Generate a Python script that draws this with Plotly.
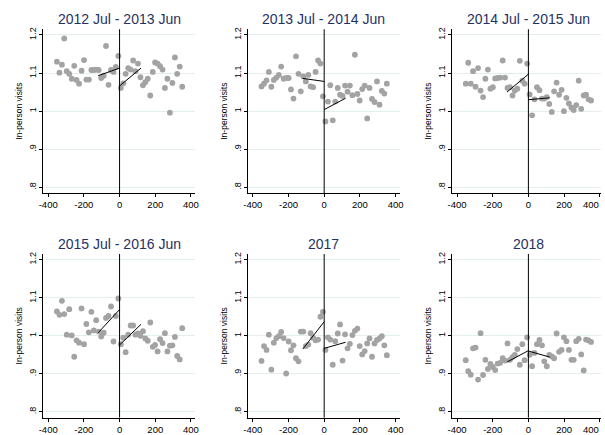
import plotly.graph_objects as go

# ---------------- data ----------------
titles = ["2012 Jul - 2013 Jun", "2013 Jul - 2014 Jun", "2014 Jul - 2015 Jun",
          "2015 Jul - 2016 Jun", "2017", "2018"]

bin_left = [-351, -337, -323, -310, -296, -282, -268, -254, -241, -227, -213, -199, -186,
            -172, -158, -144, -131, -117, -103, -89, -76, -62, -48, -34, -21, -7]
bin_right = [7, 21, 34, 48, 62, 76, 89, 103, 117, 131, 144, 158, 172,
             186, 199, 213, 227, 241, 254, 268, 282, 296, 310, 323, 337, 351]
bin_x = bin_left + bin_right

p1_vals = [1.130, 1.101, 1.122, 1.191, 1.105, 1.098, 1.085, 1.119, 1.082, 1.072, 1.106, 1.134, 1.083,
           1.083, 1.108, 1.108, 1.109, 1.108, 1.087, 1.093, 1.171, 1.069, 1.108, 1.103, 1.116, 1.145,
           1.061, 1.073, 1.098, 1.113, 1.109, 1.133, 1.105, 1.125, 1.089, 1.068, 1.076, 1.085, 1.041,
           1.103, 1.128, 1.125, 1.118, 1.109, 1.061, 1.085, 0.996, 1.074, 1.141, 1.098, 1.117, 1.064]
p2_vals = [1.065, 1.072, 1.081, 1.103, 1.064, 1.082, 1.088, 1.095, 1.117, 1.085, 1.087, 1.087, 1.057,
           1.033, 1.144, 1.098, 1.052, 1.091, 1.078, 1.095, 1.065, 1.063, 1.103, 1.133, 1.125, 1.039,
           0.973, 1.025, 1.068, 0.976, 1.025, 1.061, 1.043, 1.040, 1.067, 1.051, 1.067, 1.042, 1.148,
           1.045, 1.028, 1.058, 1.067, 0.981, 1.061, 1.032, 1.024, 1.078, 1.017, 1.053, 1.046, 1.072]
p3_vals = [1.072, 1.127, 1.072, 1.105, 1.064, 1.113, 1.054, 1.037, 1.085, 1.109, 1.059, 1.063, 1.086,
           1.087, 1.088, 1.133, 1.088, 1.061, 1.063, 1.041, 1.054, 1.059, 1.132, 1.080, 1.072, 1.125,
           1.044, 0.989, 1.031, 1.063, 1.055, 1.033, 1.033, 1.037, 1.019, 0.998, 1.052, 1.075, 1.043,
           1.056, 1.000, 1.035, 1.020, 1.009, 1.003, 1.016, 1.080, 1.006, 1.041, 1.043, 1.031, 1.028]
p4_vals = [1.064, 1.055, 1.092, 1.057, 1.003, 1.070, 1.001, 0.945, 0.988, 0.982, 1.072, 0.978, 1.031,
           1.009, 1.063, 1.014, 1.041, 1.011, 0.998, 1.008, 1.047, 1.052, 1.077, 0.985, 1.052, 1.098,
           0.978, 0.995, 0.957, 1.003, 1.027, 1.027, 1.003, 1.006, 1.000, 1.012, 0.993, 0.987, 1.035,
           0.971, 0.976, 0.959, 0.991, 0.981, 1.007, 0.959, 0.974, 0.975, 0.997, 0.947, 0.938, 1.020]
p5_vals = [0.934, 0.973, 0.963, 1.003, 0.911, 0.982, 0.994, 0.999, 1.010, 0.994, 0.901, 0.985, 0.962,
           0.975, 0.941, 0.933, 1.011, 1.011, 0.973, 0.977, 1.007, 0.995, 0.988, 0.990, 1.050, 1.063,
           0.963, 0.996, 0.990, 0.924, 0.986, 1.006, 1.030, 0.935, 1.004, 0.967, 0.979, 1.002, 1.013,
           1.019, 0.973, 0.951, 0.960, 0.980, 0.993, 0.945, 0.980, 0.989, 0.993, 0.999, 0.975, 0.949]
p6_vals = [0.936, 0.907, 0.898, 0.967, 0.969, 0.885, 1.007, 0.897, 0.937, 0.913, 0.926, 0.918, 0.910,
           0.927, 0.929, 0.941, 0.935, 0.980, 0.937, 0.944, 0.950, 0.965, 0.924, 0.978, 0.936, 0.996,
           0.950, 0.920, 0.955, 0.978, 0.989, 0.975, 0.933, 0.920, 0.950, 0.946, 0.941, 1.006, 0.958,
           0.963, 0.996, 0.986, 0.963, 0.937, 0.937, 0.986, 0.992, 0.951, 0.909, 0.990, 0.988, 0.984]
panel_vals = [p1_vals, p2_vals, p3_vals, p4_vals, p5_vals, p6_vals]

# local linear fits: [value at -120, value at 0-] and [value at 0+, value at 120]
fit_left_x = [-120, 0]
fit_right_x = [0, 120]
fit_left = [[1.093, 1.113], [1.086, 1.078], [1.050, 1.097],
            [1.008, 1.069], [0.965, 1.037], [0.931, 0.961]]
fit_right = [[1.066, 1.113], [1.004, 1.034], [1.030, 1.035],
             [0.976, 1.030], [0.967, 0.983], [0.960, 0.944]]

x_ticks = [-400, -200, 0, 200, 400]
x_ticktext = ["-400", "-200", "0", "200", "400"]
y_ticks = [0.8, 0.9, 1.0, 1.1, 1.2]
y_ticktext = [".8", ".9", "1", "1.1", "1.2"]
cutoff_x = 0

# ---------------- layout geometry (pixels) ----------------
W, H = 605, 435
col_px = [(39.0, 193.0), (246.8, 400.8), (454.1, 605.0)]
px_per_unit = 154.0 / 850.0
zero_px = [116.3, 324.0, 531.3]
row_px = [(27.5, 192.8), (254.3, 419.5)]
y_range = [0.785, 1.215]

FONT = "Liberation Sans, Arial, sans-serif"
TITLE_COLOR = "#1f3264"
GRID = "#e4edef"
DOT = "#a3a3a3"
XTICK_SIZE = 9.5

fig = go.Figure()
layout = dict(width=W, height=H, margin=dict(l=0, r=0, t=0, b=0),
              paper_bgcolor="white", plot_bgcolor="white", showlegend=False,
              font=dict(family=FONT, color="black"))
annotations = []
shapes = []

for i in range(6):
    r, c = divmod(i, 3)
    n = i + 1
    xa = "x" if n == 1 else f"x{n}"
    ya = "y" if n == 1 else f"y{n}"
    x0p, x1p = col_px[c]
    y0p, y1p = row_px[r]
    xr = [(x0p - zero_px[c]) / px_per_unit, (x1p - zero_px[c]) / px_per_unit]

    fig.add_trace(go.Scatter(x=bin_x, y=panel_vals[i], mode="markers", xaxis=xa, yaxis=ya,
                             marker=dict(color=DOT, size=5.8, line=dict(width=0)),
                             hoverinfo="skip"))
    fig.add_trace(go.Scatter(x=fit_left_x, y=fit_left[i], mode="lines", xaxis=xa, yaxis=ya,
                             line=dict(color="black", width=1), hoverinfo="skip"))
    fig.add_trace(go.Scatter(x=fit_right_x, y=fit_right[i], mode="lines", xaxis=xa, yaxis=ya,
                             line=dict(color="black", width=1), hoverinfo="skip"))

    # right-hand column: the last label reaches the page edge and plotly drops it,
    # so it is added as an annotation right-aligned at the end of the same axis
    ttext = list(x_ticktext)
    if c == 2:
        ttext[-1] = ""
        annotations.append(dict(text=x_ticktext[-1], xref=xa, yref=f"{ya} domain",
                                x=xr[1], y=0, xanchor="right", yanchor="top",
                                xshift=-1, yshift=-5, borderpad=0, showarrow=False,
                                font=dict(size=XTICK_SIZE, family=FONT, color="black")))

    layout[f"xaxis{'' if n == 1 else n}"] = dict(
        domain=[x0p / W, x1p / W], range=xr, anchor=ya,
        tickmode="array", tickvals=x_ticks, ticktext=ttext,
        tickfont=dict(size=XTICK_SIZE, family=FONT, color="black"),
        showline=True, linecolor="black", linewidth=1,
        ticks="outside", ticklen=3, tickwidth=1, tickcolor="black",
        showgrid=False, zeroline=False, fixedrange=True)
    layout[f"yaxis{'' if n == 1 else n}"] = dict(
        domain=[1 - y1p / H, 1 - y0p / H], range=y_range, anchor=xa,
        tickmode="array", tickvals=y_ticks, ticktext=y_ticktext, tickangle=-90,
        tickfont=dict(size=9, family=FONT, color="black"),
        showline=True, linecolor="black", linewidth=1,
        ticks="outside", ticklen=3, tickwidth=1, tickcolor="black",
        showgrid=True, gridcolor=GRID, gridwidth=1, zeroline=False, fixedrange=True,
        title=dict(text="In-person visits", font=dict(size=8.5, family=FONT, color="black"),
                   standoff=3))

    shapes.append(dict(type="line", xref=xa, yref=f"{ya} domain", x0=cutoff_x, x1=cutoff_x,
                       y0=0, y1=1, line=dict(color="black", width=1)))
    annotations.append(dict(text=titles[i], xref="paper", yref="paper",
                            x=(x0p + (x1p if c < 2 else x0p + 154.0)) / 2 / W,
                            y=1 - (y0p - 10.5) / H, xanchor="center", yanchor="middle",
                            showarrow=False, font=dict(size=14, family=FONT, color=TITLE_COLOR)))

layout["annotations"] = annotations
layout["shapes"] = shapes
fig.update_layout(**layout)
fig.write_html("out.html")
